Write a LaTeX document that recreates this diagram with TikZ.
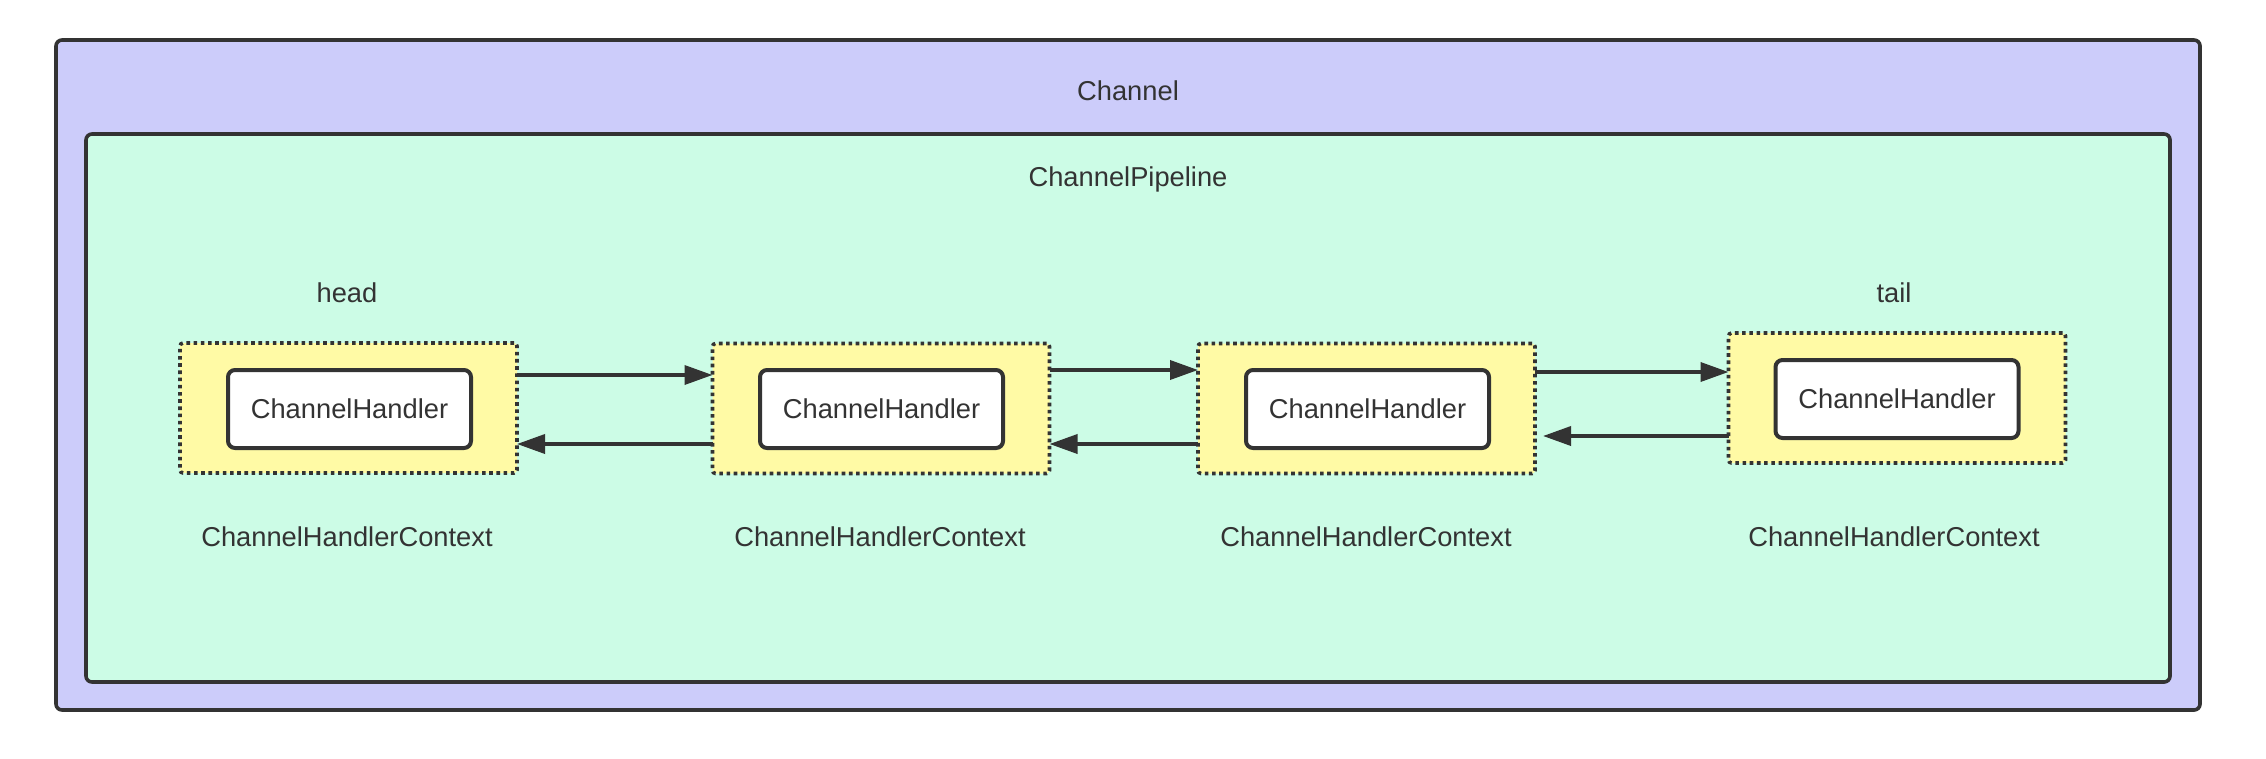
\documentclass[tikz,border=0pt]{standalone}
\usepackage{fontspec}
\setmainfont{Liberation Sans}
\usetikzlibrary{arrows.meta}
\definecolor{lav}{RGB}{204,204,250}
\definecolor{mint}{RGB}{204,252,230}
\definecolor{yel}{RGB}{255,250,165}
\definecolor{ink}{RGB}{51,51,51}
\tikzset{
  outerbox/.style={draw=ink, line width=3.6pt, rounded corners=6pt, outer sep=0pt},
  ctxbox/.style={draw=ink, fill=yel, line width=3.6pt, dash pattern=on 3.6pt off 3.6pt,
    rounded corners=3pt, minimum width=337pt, minimum height=130pt, outer sep=0pt, inner sep=0pt},
  handler/.style={draw=ink, fill=white, line width=4pt, rounded corners=7pt,
    minimum width=243pt, minimum height=78pt, outer sep=0pt, inner sep=0pt,
    text=ink, font=\fontsize{27.3}{32}\selectfont},
  lbl/.style={anchor=base, text=ink, inner sep=0pt, font=\fontsize{27.3}{32}\selectfont},
  arr/.style={draw=ink, line width=3.6pt, -{Triangle[length=28pt,width=19pt]}}
}
\begin{document}
\begin{tikzpicture}[x=1pt,y=-1pt]
\useasboundingbox (0,0) rectangle (2266,758);
\node[outerbox, fill=lav, minimum width=2144pt, minimum height=670pt] (channel) at (1128,375) {};
\node[outerbox, fill=mint, minimum width=2084pt, minimum height=548pt] (pipeline) at (1128,408) {};
\node[lbl] (tchannel) at (1128,100) {Channel};
\node[lbl] (tpipeline) at (1128,186) {ChannelPipeline};

\node[ctxbox] (b1) at (348.5,408) {};
\node[ctxbox] (b2) at (881,408.5) {};
\node[ctxbox] (b3) at (1366.5,408.5) {};
\node[ctxbox] (b4) at (1897,398) {};

\node[handler] (h1) at (349.5,409) {ChannelHandler};
\node[handler] (h2) at (881.5,409) {ChannelHandler};
\node[handler] (h3) at (1367.5,409) {ChannelHandler};
\node[handler] (h4) at (1897,399) {ChannelHandler};

\node[lbl] (head) at (347,302) {head};
\node[lbl] (tail) at (1894,302) {tail};
\node[lbl] (c1) at (347,546) {ChannelHandlerContext};
\node[lbl] (c2) at (880,546) {ChannelHandlerContext};
\node[lbl] (c3) at (1366,546) {ChannelHandlerContext};
\node[lbl] (c4) at (1894,546) {ChannelHandlerContext};

\draw[arr] (b1.east |- 0,375) -- (b2.west |- 0,375);
\draw[arr] (b2.west |- 0,444) -- (b1.east |- 0,444);
\draw[arr] (b2.east |- 0,370) -- (b3.west |- 0,370);
\draw[arr] (b3.west |- 0,444) -- (b2.east |- 0,444);
\draw[arr] (b3.east |- 0,372) -- (b4.west |- 0,372);
\draw[arr] (b4.west |- 0,436) -- ([xshift=8pt]b3.east |- 0,436);
\end{tikzpicture}
\end{document}
